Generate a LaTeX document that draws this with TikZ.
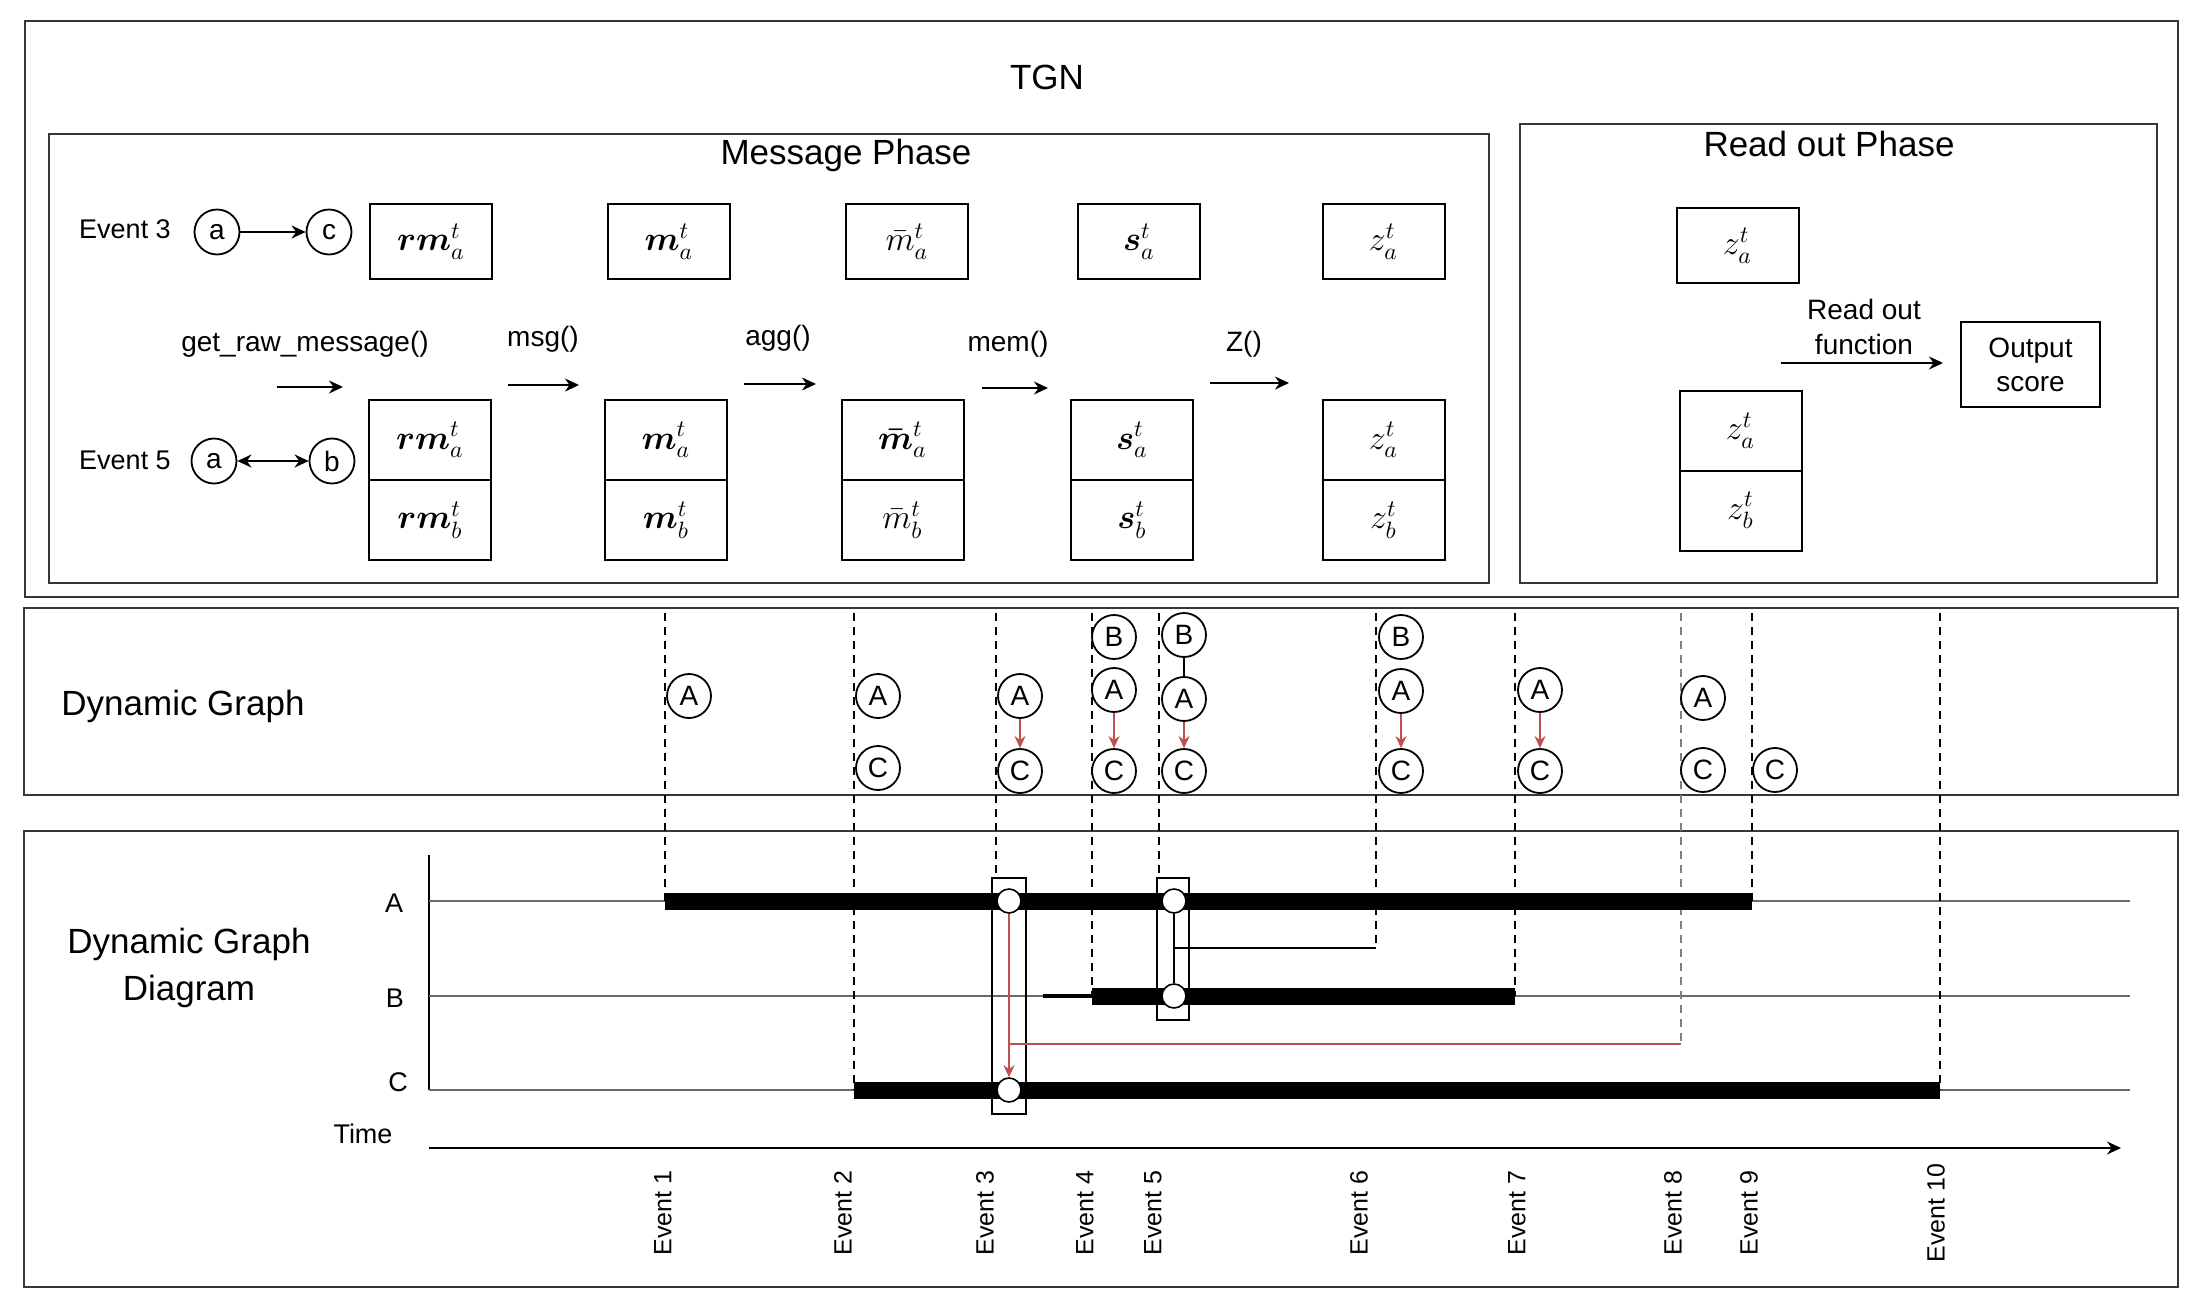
\documentclass[tikz,border=0pt]{standalone}
\usepackage{amsmath}
\usepackage{fontspec}
\setmainfont{Liberation Sans}
\usetikzlibrary{arrows.meta}
\definecolor{redarr}{RGB}{192,80,77}
\definecolor{linegray}{RGB}{105,105,105}
\definecolor{framegray}{RGB}{55,55,55}
\newcommand{\bxm}[1]{\scalebox{1.18}{$#1$}}
\begin{document}
\begin{tikzpicture}[x=0.5pt,y=-0.5pt,
  outerframe/.style={draw=framegray, line width=1.2pt},
  ttl/.style={font=\fontsize{17.5}{23.5}\selectfont, inner sep=0, align=center},
  lbl/.style={font=\fontsize{13.5}{16}\selectfont, inner sep=0},
  fnlbl/.style={font=\fontsize{14}{17.5}\selectfont, inner sep=0, align=center},
  vbox/.style={draw, line width=1pt, minimum width=61pt, minimum height=37.5pt, inner sep=0, font=\fontsize{14.4}{17}\selectfont},
  stackcell/.style={draw, line width=1pt, minimum width=61pt, minimum height=40pt, inner sep=0, font=\fontsize{14.4}{17}\selectfont},
  ecirc/.style={draw, circle, line width=0.9pt, minimum size=22.5pt, inner sep=0, font=\fontsize{14}{16}\selectfont},
  gcirc/.style={draw, circle, fill=white, line width=0.9pt, minimum size=22pt, inner sep=0, font=\fontsize{14}{16}\selectfont},
  blkarrow/.style={line width=1pt, -{Stealth[length=7pt,width=6.5pt]}},
  redarrow/.style={draw=redarr, line width=0.9pt, -{Stealth[length=6pt,width=5.5pt]}},
  redline/.style={draw=redarr, line width=0.9pt},
  evline/.style={dash pattern=on 4pt off 3pt, line width=0.8pt},
  thinline/.style={draw=linegray, line width=1.2pt},
  thickbar/.style={line width=8.5pt},
  wdot/.style={circle, draw, fill=white, minimum size=12pt, inner sep=0, line width=0.8pt},
  hlrect/.style={draw, line width=0.9pt, inner sep=0},
  evlab/.style={rotate=90, font=\fontsize{12.5}{15}\selectfont, inner sep=0}
]
\useasboundingbox (0,0) rectangle (2206,1312);

% ---------------- frames ----------------
\draw[outerframe] (25,21) rectangle (2178,597);
\draw[outerframe] (49,134) rectangle (1489,583);
\draw[outerframe] (1520,124) rectangle (2157,583);
\draw[outerframe] (24,608) rectangle (2178,795);
\draw[outerframe] (24,831) rectangle (2178,1287);

% ---------------- titles ----------------
\node[ttl] (tgn) at (1047,77) {TGN};
\node[ttl] (msgph) at (846,155) {Message Phase};
\node[ttl] (roph) at (1829,144) {Read out Phase};
\node[ttl] (dgt) at (183,706) {Dynamic Graph};
\node[ttl] (dgdt) at (189,968) {Dynamic Graph\\Diagram};

% ---------------- message phase ----------------
\node[lbl] (ev3) at (125,229) {Event 3};
\node[ecirc] (ca3) at (217,232) {a};
\node[ecirc] (cc3) at (329,232) {c};
\draw[blkarrow] (ca3) -- (cc3);
\node[lbl] (ev5) at (125,460) {Event 5};
\node[ecirc] (ca5) at (214,461) {a};
\node[ecirc] (cb5) at (332,461) {b};
\draw[line width=1pt, {Stealth[length=7pt,width=6.5pt]}-{Stealth[length=7pt,width=6.5pt]}] (ca5) -- (cb5);

\node[vbox] (rmA) at (431,241.5) {\bxm{\boldsymbol{rm}^t_a}};
\node[vbox] (mA) at (669,241.5) {\bxm{\boldsymbol{m}^t_a}};
\node[vbox] (mbA) at (907,241.5) {\bxm{\bar{m}^t_a}};
\node[vbox] (sA) at (1139,241.5) {\bxm{\boldsymbol{s}^t_a}};
\node[vbox] (zA) at (1383.5,241.5) {\bxm{z^t_a}};

\node[stackcell] (rmS1) at (430,440) {\bxm{\boldsymbol{rm}^t_a}};
\node[stackcell] (rmS2) at (430,520) {\bxm{\boldsymbol{rm}^t_b}};
\node[stackcell] (mS1) at (666,440) {\bxm{\boldsymbol{m}^t_a}};
\node[stackcell] (mS2) at (666,520) {\bxm{\boldsymbol{m}^t_b}};
\node[stackcell] (mbS1) at (902.5,440) {\bxm{\boldsymbol{\bar{m}}^t_a}};
\node[stackcell] (mbS2) at (902.5,520) {\bxm{\bar{m}^t_b}};
\node[stackcell] (sS1) at (1132,440) {\bxm{\boldsymbol{s}^t_a}};
\node[stackcell] (sS2) at (1132,520) {\bxm{\boldsymbol{s}^t_b}};
\node[stackcell] (zS1) at (1383.5,440) {\bxm{z^t_a}};
\node[stackcell] (zS2) at (1383.5,520) {\bxm{z^t_b}};

\coordinate (a1s) at (277,387); \coordinate (a1e) at (343,387);
\coordinate (a2s) at (508,385); \coordinate (a2e) at (579,385);
\coordinate (a3s) at (744,384); \coordinate (a3e) at (816,384);
\coordinate (a4s) at (982,388); \coordinate (a4e) at (1048,388);
\coordinate (a5s) at (1210,383); \coordinate (a5e) at (1289,383);
\draw[blkarrow] (a1s) -- (a1e);
\draw[blkarrow] (a2s) -- (a2e);
\draw[blkarrow] (a3s) -- (a3e);
\draw[blkarrow] (a4s) -- (a4e);
\draw[blkarrow] (a5s) -- (a5e);
\node[fnlbl] (l1) at (305,344) {get\_raw\_message()};
\node[fnlbl] (l2) at (543,339) {msg()};
\node[fnlbl] (l3) at (778,338) {agg()};
\node[fnlbl] (l4) at (1008,344) {mem()};
\node[fnlbl] (l5) at (1244,344) {Z()};

% ---------------- read out phase ----------------
\node[vbox] (rzA) at (1737.5,245.5) {\bxm{z^t_a}};
\node[stackcell] (rzS1) at (1740.5,430.5) {\bxm{z^t_a}};
\node[stackcell] (rzS2) at (1740.5,510.5) {\bxm{z^t_b}};
\node[draw, line width=1pt, minimum width=69.5pt, minimum height=42.5pt, inner sep=0, fnlbl, font=\fontsize{14}{17}\selectfont] (out) at (2030.5,364.5) {Output\\score};
\coordinate (ros) at (1781,363);
\draw[blkarrow] (ros) -- ([xshift=-8.5pt]out.west |- ros);
\node[fnlbl] (rol) at (1864,327) {Read out\\function};

% ---------------- dynamic graph diagram axes ----------------
\node[lbl] (lA) at (394,903) {A};
\node[lbl] (lB) at (395,998) {B};
\node[lbl] (lC) at (398,1082) {C};
\node[lbl] (lT) at (363,1134) {Time};
\coordinate (vtop) at (429,855); \coordinate (vbot) at (429,1090);
\draw[line width=1pt] (vtop) -- (vbot);
\coordinate (Ast) at (429,901); \coordinate (Aen) at (2130,901);
\coordinate (Bst) at (429,996); \coordinate (Ben) at (2130,996);
\coordinate (Cst) at (429,1090); \coordinate (Cen) at (2130,1090);
\draw[thinline] (Ast) -- (Aen);
\draw[thinline] (Bst) -- (Ben);
\draw[thinline] (Cst) -- (Cen);
\coordinate (tx0) at (429,1148); \coordinate (tx1) at (2121,1148);
\draw[blkarrow] (tx0) -- (tx1);

% event tops and bottoms
\coordinate (e1t) at (665,613);  \coordinate (e1b) at (665,901);
\coordinate (e2t) at (854,613);  \coordinate (e2b) at (854,1090);
\coordinate (e3t) at (996,613);
\coordinate (e4t) at (1092,613); \coordinate (e4b) at (1092,996);
\coordinate (e5t) at (1159,613);
\coordinate (e6t) at (1376,613); \coordinate (e6b) at (1376,948);
\coordinate (e7t) at (1515,613); \coordinate (e7b) at (1515,996);
\coordinate (e8t) at (1681,613); \coordinate (e8b) at (1681,1044);
\coordinate (e9t) at (1752,613); \coordinate (e9b) at (1752,901);
\coordinate (e10t) at (1940,613); \coordinate (e10b) at (1940,1090);

% highlight rectangles
\node[hlrect, minimum width=17pt, minimum height=118pt] (r3) at (1009,996) {};
\node[hlrect, minimum width=16pt, minimum height=71pt] (r5) at (1173,949) {};

% dashed event lines
\draw[evline] (e1t) -- (e1b);
\draw[evline] (e2t) -- (e2b);
\draw[evline] (e3t) -- (e3t |- r3.north);
\draw[evline] (e4t) -- (e4b);
\draw[evline] (e5t) -- (e5t |- r5.north);
\draw[evline] (e6t) -- (e6b);
\draw[evline] (e7t) -- (e7b);
\draw[evline, draw=gray] (e8t) -- (e8b);
\draw[evline] (e9t) -- (e9b);
\draw[evline] (e10t) -- (e10b);

% thick bars
\draw[line width=1.6pt] (1043,996) -- (e4b);
\draw[thickbar] (e1b) -- (e9b);
\draw[thickbar] (e4b) -- (e7b);
\draw[thickbar] (e2b) -- (e10b);

% nodes on bars
\node[wdot] (dA3) at (1009,901) {};
\node[wdot] (dC3) at (1009,1090) {};
\node[wdot] (dA5) at (1174,901) {};
\node[wdot] (dB5) at (1174,996) {};
\draw[line width=1pt] (dA5) -- (dB5);
\draw[line width=0.8pt] (e6b) -- (e6b -| dA5);
\draw[redarrow] (dA3) -- (dC3);
\draw[redline] (e8b) -- (e8b -| dA3);

% event labels
\node[evlab] (el1) at (663,1213) {Event 1};
\node[evlab] (el2) at (843,1213) {Event 2};
\node[evlab] (el3) at (985,1213) {Event 3};
\node[evlab] (el4) at (1085,1213) {Event 4};
\node[evlab] (el5) at (1153,1213) {Event 5};
\node[evlab] (el6) at (1359,1213) {Event 6};
\node[evlab] (el7) at (1517,1213) {Event 7};
\node[evlab] (el8) at (1673,1213) {Event 8};
\node[evlab] (el9) at (1749,1213) {Event 9};
\node[evlab] (el10) at (1936,1213) {Event 10};

% ---------------- dynamic graph ----------------
\node[gcirc] (g1A) at (689,696) {A};
\node[gcirc] (g2A) at (878,696) {A};
\node[gcirc] (g2C) at (878,768) {C};
\node[gcirc] (g3A) at (1020,696) {A};
\node[gcirc] (g3C) at (1020,771) {C};
\node[gcirc] (g4B) at (1114,637) {B};
\node[gcirc] (g4A) at (1114,690) {A};
\node[gcirc] (g4C) at (1114,771) {C};
\node[gcirc] (g5B) at (1184,635) {B};
\node[gcirc] (g5A) at (1184,699) {A};
\node[gcirc] (g5C) at (1184,771) {C};
\node[gcirc] (g6B) at (1401,637) {B};
\node[gcirc] (g6A) at (1401,691) {A};
\node[gcirc] (g6C) at (1401,771) {C};
\node[gcirc] (g7A) at (1540,690) {A};
\node[gcirc] (g7C) at (1540,771) {C};
\node[gcirc] (g8A) at (1703,698) {A};
\node[gcirc] (g8C) at (1703,770) {C};
\node[gcirc] (g9C) at (1775,770) {C};
\draw[line width=1pt] (g5B) -- (g5A);
\draw[redarrow] (g3A) -- (g3C);
\draw[redarrow] (g4A) -- (g4C);
\draw[redarrow] (g5A) -- (g5C);
\draw[redarrow] (g6A) -- (g6C);
\draw[redarrow] (g7A) -- (g7C);
\end{tikzpicture}
\end{document}
